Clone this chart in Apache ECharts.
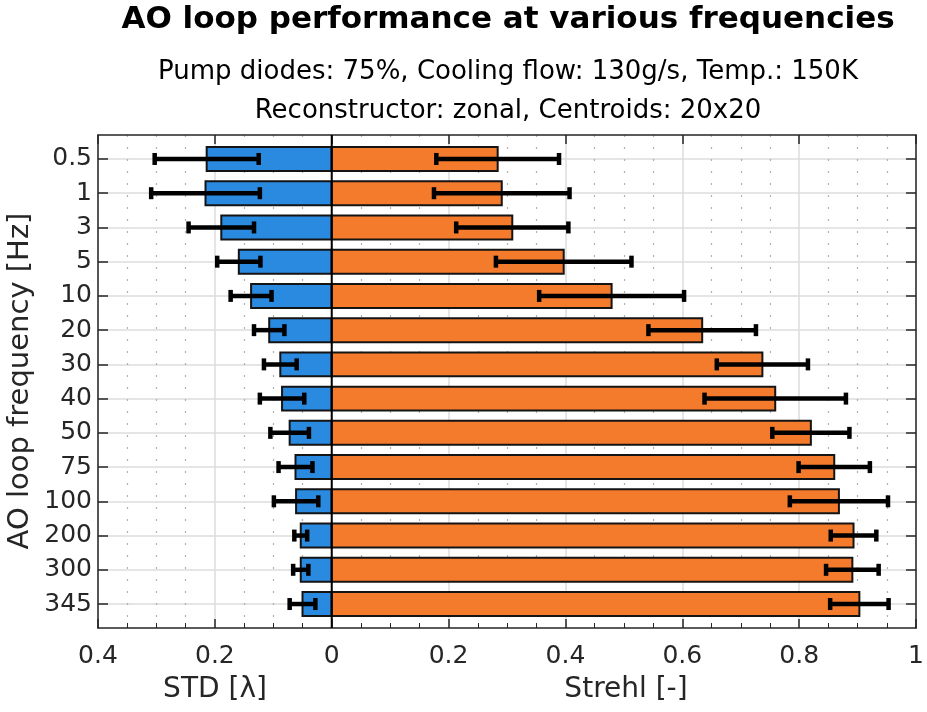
<!DOCTYPE html>
<html>
<head>
<meta charset="utf-8">
<script src="https://cdn.jsdelivr.net/npm/echarts@6/dist/echarts.min.js"></script>
<style>
html,body{margin:0;padding:0;background:#fff;}
#main{width:927px;height:712px;}
</style>
</head>
<body>
<div id="main"></div>
<script>
const categories = ['0.5','1','3','5','10','20','30','40','50','75','100','200','300','345'];
const stdMean = [0.214,0.216,0.189,0.159,0.138,0.107,0.088,0.085,0.072,0.062,0.061,0.053,0.053,0.050];
const stdErr = [0.089,0.093,0.056,0.037,0.035,0.026,0.028,0.038,0.033,0.029,0.038,0.011,0.013,0.022];
const strehlMean = [0.284,0.291,0.309,0.397,0.479,0.634,0.737,0.759,0.820,0.860,0.868,0.893,0.891,0.903];
const strehlErr = [0.105,0.116,0.096,0.116,0.124,0.092,0.078,0.121,0.066,0.061,0.084,0.039,0.045,0.050];
const titleText = 'AO loop performance at various frequencies';
const subtitle1 = 'Pump diodes: 75%, Cooling flow: 130g/s, Temp.: 150K';
const subtitle2 = 'Reconstructor: zonal, Centroids: 20x20';
const xNameLeft = 'STD [\u03bb]';
const xNameRight = 'Strehl [-]';
const yName = 'AO loop frequency [Hz]';

const FONT = '"DejaVu Sans", "Liberation Sans", sans-serif';
const TXT = '#262626';
const AX = '#262626';
const BLUE = '#2A8ADF';
const ORANGE = '#F47A2C';
const YMIN = 0.3, YMAX = 14.7;
const yPos = categories.map((c, i) => i + 1);

const chart = echarts.init(document.getElementById('main'), null, {renderer: 'canvas'});

const stdData = stdMean.map((v, i) => [yPos[i], -v]);
const strehlData = strehlMean.map((v, i) => [yPos[i], v]);
const stdErrData = stdMean.map((v, i) => [yPos[i], -(v + stdErr[i]), -(v - stdErr[i])]);
const strehlErrData = strehlMean.map((v, i) => [yPos[i], v - strehlErr[i], v + strehlErr[i]]);

function barItem(color) {
  return function (params, api) {
    const y = api.value(0), v = api.value(1);
    const p0 = api.coord([0, y]);
    const p1 = api.coord([v, y]);
    const h = Math.abs(api.size([0, 0.7])[1]);
    return {
      type: 'rect',
      shape: {x: Math.min(p0[0], p1[0]), y: p0[1] - h / 2, width: Math.abs(p1[0] - p0[0]), height: h},
      style: {fill: color, stroke: '#141414', lineWidth: 2}
    };
  };
}

function errItem(params, api) {
  const y = api.value(0);
  const a = api.coord([api.value(1), y]);
  const b = api.coord([api.value(2), y]);
  const cap = 6;
  const st = {stroke: '#000', lineWidth: 4.5};
  return {
    type: 'group',
    children: [
      {type: 'line', shape: {x1: a[0], y1: a[1], x2: b[0], y2: b[1]}, style: st},
      {type: 'line', shape: {x1: a[0], y1: a[1] - cap, x2: a[0], y2: a[1] + cap}, style: st},
      {type: 'line', shape: {x1: b[0], y1: b[1] - cap, x2: b[0], y2: b[1] + cap}, style: st}
    ]
  };
}

function zeroItem(params, api) {
  const a = api.coord([0, YMIN]);
  const b = api.coord([0, YMAX]);
  return {type: 'line', shape: {x1: a[0], y1: a[1], x2: b[0], y2: b[1]}, style: {stroke: '#000', lineWidth: 2}};
}

const fmtX = v => String(Math.round(Math.abs(v) * 10) / 10);

const option = {
  backgroundColor: '#fff',
  animation: false,
  grid: {left: 98, right: 9, top: 135, bottom: 84, containLabel: false},
  graphic: [
    {type: 'text', style: {text: titleText, x: 508, y: 20, textAlign: 'center', textVerticalAlign: 'middle', font: 'bold 31px ' + FONT, fill: '#000'}},
    {type: 'text', style: {text: subtitle1, x: 508, y: 72, textAlign: 'center', textVerticalAlign: 'middle', font: '26px ' + FONT, fill: '#000'}},
    {type: 'text', style: {text: subtitle2, x: 508, y: 111, textAlign: 'center', textVerticalAlign: 'middle', font: '26px ' + FONT, fill: '#000'}},
    {type: 'text', style: {text: xNameLeft, x: 215, y: 690, textAlign: 'center', textVerticalAlign: 'middle', font: '28px ' + FONT, fill: TXT}},
    {type: 'text', style: {text: xNameRight, x: 626, y: 690, textAlign: 'center', textVerticalAlign: 'middle', font: '28px ' + FONT, fill: TXT}},
    {type: 'text', rotation: Math.PI / 2, x: 20, y: 381, style: {text: yName, x: 0, y: 0, textAlign: 'center', textVerticalAlign: 'middle', font: '29px ' + FONT, fill: TXT}}
  ],
  xAxis: [
    {
      type: 'value', position: 'bottom', min: -0.4, max: 1, interval: 0.2,
      axisLine: {show: true, onZero: false, lineStyle: {color: AX, width: 1.5}},
      axisTick: {show: true, inside: true, length: 9, lineStyle: {color: AX, width: 1.5}},
      minorTick: {show: true, splitNumber: 4, length: 5, lineStyle: {color: AX, width: 1}},
      axisLabel: {formatter: fmtX, fontSize: 25, fontFamily: FONT, color: TXT, margin: 16},
      splitLine: {show: true, lineStyle: {color: '#dcdcdc', width: 1.5}},
      minorSplitLine: {show: true, lineStyle: {color: '#b0b0b0', width: 1.2, type: [2, 10]}}
    },
    {
      type: 'value', position: 'top', min: -0.4, max: 1, interval: 0.2,
      axisLine: {show: true, onZero: false, lineStyle: {color: AX, width: 1.5}},
      axisTick: {show: true, inside: true, length: 9, lineStyle: {color: AX, width: 1.5}},
      axisLabel: {show: false},
      splitLine: {show: false}
    }
  ],
  yAxis: [
    {
      type: 'value', position: 'left', min: YMIN, max: YMAX, inverse: true,
      axisLine: {show: true, onZero: false, lineStyle: {color: AX, width: 1.5}},
      axisTick: {show: true, inside: true, length: 10, customValues: yPos, lineStyle: {color: AX, width: 1.5}},
      axisLabel: {show: true, customValues: yPos, formatter: v => categories[Math.round(v) - 1] || '', fontSize: 25, fontFamily: FONT, color: TXT, margin: 6},
      splitLine: {show: true, lineStyle: {color: '#dcdcdc', width: 1.5}}
    },
    {
      type: 'value', position: 'right', min: YMIN, max: YMAX, inverse: true,
      axisLine: {show: true, onZero: false, lineStyle: {color: AX, width: 1.5}},
      axisTick: {show: true, inside: true, length: 10, customValues: yPos, lineStyle: {color: AX, width: 1.5}},
      axisLabel: {show: false},
      splitLine: {show: false}
    }
  ],
  series: [
    {type: 'custom', name: 'STD', xAxisIndex: 0, yAxisIndex: 0, data: stdData, encode: {x: 1, y: 0}, renderItem: barItem(BLUE), z: 2},
    {type: 'custom', name: 'Strehl', xAxisIndex: 0, yAxisIndex: 0, data: strehlData, encode: {x: 1, y: 0}, renderItem: barItem(ORANGE), z: 2},
    {type: 'custom', name: 'STD err', xAxisIndex: 0, yAxisIndex: 0, data: stdErrData, encode: {x: [1, 2], y: 0}, renderItem: errItem, z: 3},
    {type: 'custom', name: 'Strehl err', xAxisIndex: 0, yAxisIndex: 0, data: strehlErrData, encode: {x: [1, 2], y: 0}, renderItem: errItem, z: 3},
    {type: 'custom', name: 'zero', xAxisIndex: 0, yAxisIndex: 0, data: [[0, 1]], encode: {x: 0, y: 1}, renderItem: zeroItem, z: 4}
  ]
};
chart.setOption(option);
</script>
</body>
</html>
